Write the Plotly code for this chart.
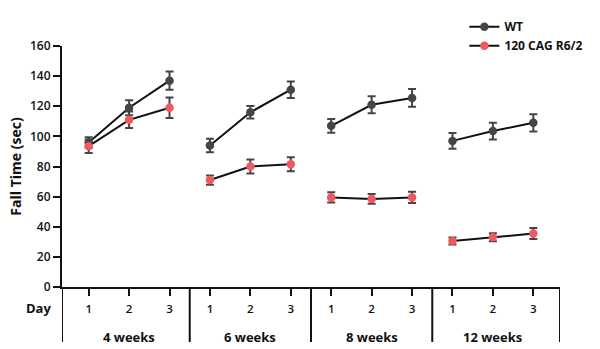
import plotly.graph_objects as go

groups = ["4 weeks", "6 weeks", "8 weeks", "12 weeks"]
days = ["1", "2", "3"]

wt_mean = [96, 119, 137, 94, 116, 131, 107, 121, 125.5, 97, 103.5, 109]
wt_err = [3.5, 5, 6, 4.5, 4.2, 5.5, 4.6, 5.7, 5.9, 5.2, 5.5, 5.7]
r6_mean = [93.5, 111, 119, 71, 80, 81.5, 59.5, 58.5, 59.5, 30.5, 33, 35.5]
r6_err = [4.5, 5.5, 6.8, 3.1, 4.6, 4.6, 3.4, 3.2, 3.8, 2.3, 2.7, 3.6]

FONT = "Open Sans"
pos = list(range(1, len(groups) * len(days) + 1))


def gapped(vals):
    xs, ys = [], []
    for g in range(len(groups)):
        for d in range(len(days)):
            i = g * len(days) + d
            xs.append(pos[i])
            ys.append(vals[i])
        xs.append(None)
        ys.append(None)
    return xs, ys


def errs(err):
    out = []
    for g in range(len(groups)):
        out += err[g * len(days):(g + 1) * len(days)] + [None]
    return out


fig = go.Figure()
for name, mean, err, col in [("WT", wt_mean, wt_err, "#454545"),
                             ("120 CAG R6/2", r6_mean, r6_err, "#EE5A5E")]:
    xs, ys = gapped(mean)
    fig.add_trace(go.Scatter(
        x=xs, y=ys, name=name, mode="lines+markers",
        line=dict(color="#111111", width=2),
        marker=dict(color=col, size=8.5),
        error_y=dict(type="data", array=errs(err), visible=True,
                     color="#454545", thickness=2, width=4),
        connectgaps=False,
    ))

xmin, xmax = 0.34, 12.66
fig.update_layout(
    width=600, height=349,
    margin=dict(l=62, r=39, t=33, b=62),
    plot_bgcolor="white", paper_bgcolor="white",
    font=dict(family=FONT, color="#111111", size=11),
    showlegend=True,
    legend=dict(x=0.808, y=1.14, xanchor="left", yanchor="top",
                font=dict(family=FONT, size=12, weight="bold"),
                bgcolor="rgba(0,0,0,0)", tracegroupgap=0),
    xaxis=dict(range=[xmin, xmax], tickvals=pos,
               ticktext=days * len(groups),
               showline=True, linecolor="#111111", linewidth=2,
               ticks="outside", ticklen=7, tickwidth=2, tickcolor="#111111",
               showgrid=False, zeroline=False,
               tickfont=dict(family=FONT, size=11.5, weight=600),
               ticklabelstandoff=3),
    yaxis=dict(range=[0, 160], tickvals=[0, 20, 40, 60, 80, 100, 120, 140, 160],
               showline=True, linecolor="#111111", linewidth=2,
               ticks="outside", ticklen=7, tickwidth=2, tickcolor="#111111",
               showgrid=False, zeroline=False,
               tickfont=dict(family=FONT, size=12, weight=600),
               title=dict(text="Fall Time (sec)", standoff=5,
                          font=dict(family=FONT, size=14, weight="bold"))),
)

# group separators
seps = [xmin, 3.5, 6.5, 9.5, xmax]
for s in seps:
    fig.add_shape(type="line", xref="x", yref="paper", x0=s, x1=s,
                  y0=0, y1=-0.228, line=dict(color="#111111", width=2))

for g, label in enumerate(groups):
    fig.add_annotation(x=pos[g * len(days) + 1], y=-0.208, xref="x", yref="paper",
                       text=label, showarrow=False, yanchor="middle",
                       font=dict(family=FONT, size=13, weight="bold"))

fig.add_annotation(x=-0.048, y=-0.087, xref="paper", yref="paper", text="Day",
                   showarrow=False, xanchor="center", yanchor="middle",
                   font=dict(family=FONT, size=13, weight="bold"))

fig.write_html("out.html")
